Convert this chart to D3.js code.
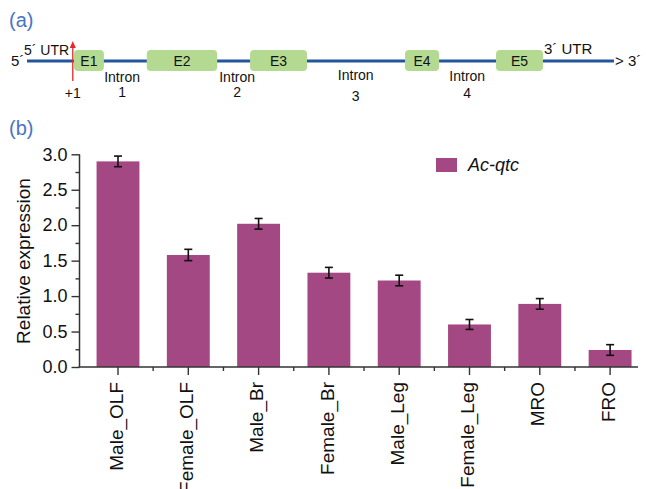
<!DOCTYPE html>
<html>
<head>
<meta charset="utf-8">
<script src="https://cdn.jsdelivr.net/npm/d3@7"></script>
<style>
  html, body { margin: 0; padding: 0; background: #fff; }
  svg { display: block; font-family: Arial, "Liberation Sans", Helvetica, sans-serif; }
</style>
</head>
<body>
<svg id="fig" width="646" height="489"></svg>
<script>
// ---- Gene structure (panel a), positions along the transcript in arbitrary units (0–1000) ----
const exonNames  = ["E1", "E2", "E3", "E4", "E5"];
const exonStarts = [80, 204, 380, 644, 799];
const exonEnds   = [131, 324, 477, 702, 879];
const intronNames = ["1", "2", "3", "4"];
const intronLabelPos = [162, 358, 560, 750];
const tssPos = 78;

// ---- Relative expression (panel b) ----
const tissues = ["Male_OLF", "Female_OLF", "Male_Br", "Female_Br", "Male_Leg", "Female_Leg", "MRO", "FRO"];
const expression = [2.90, 1.58, 2.02, 1.33, 1.22, 0.60, 0.89, 0.24];
const expressionErr = [0.075, 0.08, 0.075, 0.075, 0.075, 0.07, 0.075, 0.075];
const yMajorTicks = [0, 0.5, 1.0, 1.5, 2.0, 2.5, 3.0];
const yMinorTicks = [0.25, 0.75, 1.25, 1.75, 2.25, 2.75];
const seriesName = "Ac-qtc";

const svg = d3.select("#fig");
const barColor = "#a44884";
const axisColor = "#333";
const panelColor = "#4a74c4";

// ================= Panel (a) =================
svg.append("text").attr("x", 9).attr("y", 27)
  .attr("font-size", 20).attr("fill", panelColor).text("(a)");

const gx = d3.scaleLinear().domain([0, 1000]).range([27, 614]);
const geneY = 61;
const gA = svg.append("g");

gA.append("line")
  .attr("x1", gx(0)).attr("x2", gx(1000))
  .attr("y1", geneY).attr("y2", geneY)
  .attr("stroke", "#22559b").attr("stroke-width", 3);

// transcription start site arrow
gA.append("line")
  .attr("x1", gx(tssPos)).attr("x2", gx(tssPos))
  .attr("y1", 81).attr("y2", 46)
  .attr("stroke", "#e8262b").attr("stroke-width", 1.3);
gA.append("path")
  .attr("d", d3.line()([[gx(tssPos) - 3, 48], [gx(tssPos), 41], [gx(tssPos) + 3, 48]]) + "Z")
  .attr("fill", "#e8262b");

const exons = exonNames.map((n, i) => ({ name: n, s: exonStarts[i], e: exonEnds[i] }));
gA.selectAll("rect.exon").data(exons).join("rect")
  .attr("class", "exon")
  .attr("x", d => gx(d.s)).attr("width", d => gx(d.e) - gx(d.s))
  .attr("y", geneY - 11).attr("height", 21)
  .attr("rx", 4).attr("fill", "#b4da92");
gA.selectAll("text.exon").data(exons).join("text")
  .attr("class", "exon")
  .attr("x", d => (gx(d.s) + gx(d.e)) / 2).attr("y", geneY + 5)
  .attr("text-anchor", "middle").attr("font-size", 14).attr("fill", "#111")
  .text(d => d.name);

const intronDy = [0, 0, -2, -1];
const intronNumDy = [0, 0, 4, 1];
intronNames.forEach((n, i) => {
  const cx = gx(intronLabelPos[i]);
  gA.append("text").attr("x", cx).attr("y", 82 + intronDy[i])
    .attr("text-anchor", "middle").attr("font-size", 14).attr("fill", "#111").text("Intron");
  gA.append("text").attr("x", cx).attr("y", 97 + intronNumDy[i])
    .attr("text-anchor", "middle").attr("font-size", 14).attr("fill", "#111").text(n);
});

gA.append("text").attr("x", gx(tssPos)).attr("y", 98).attr("text-anchor", "middle")
  .attr("font-size", 14).attr("fill", "#111").text("+1");
gA.append("text").attr("x", 11).attr("y", 66).attr("font-size", 15).attr("fill", "#111").text("5´");
gA.append("text").attr("x", 24).attr("y", 55).attr("font-size", 14).attr("fill", "#111").text("5´ UTR");
gA.append("text").attr("x", 544).attr("y", 54).attr("font-size", 15).attr("fill", "#111").text("3´ UTR");
gA.append("text").attr("x", 615).attr("y", 66).attr("font-size", 15).attr("fill", "#111").text("> 3´");

// ================= Panel (b) =================
svg.append("text").attr("x", 9).attr("y", 135)
  .attr("font-size", 20).attr("fill", panelColor).text("(b)");

const axisX = 79.5, baseY = 367;
const y = d3.scaleLinear().domain([0, 3]).range([baseY, 154.3]);
const x = d3.scaleBand().domain(tissues).range([82.85, 645.25])
  .paddingInner(0.39).paddingOuter(0.195);

// bars
svg.append("g").selectAll("rect").data(tissues).join("rect")
  .attr("x", d => x(d)).attr("width", x.bandwidth())
  .attr("y", (d, i) => y(expression[i]))
  .attr("height", (d, i) => y(0) - y(expression[i]))
  .attr("fill", barColor);

// error bars
const gE = svg.append("g").attr("stroke", "#111").attr("stroke-width", 1.6);
tissues.forEach((t, i) => {
  const cx = x(t) + x.bandwidth() / 2;
  const hi = y(expression[i] + expressionErr[i]);
  const lo = y(expression[i] - expressionErr[i]);
  gE.append("line").attr("x1", cx).attr("x2", cx).attr("y1", hi).attr("y2", lo);
  gE.append("line").attr("x1", cx - 4).attr("x2", cx + 4).attr("y1", hi).attr("y2", hi);
  gE.append("line").attr("x1", cx - 4).attr("x2", cx + 4).attr("y1", lo).attr("y2", lo);
});

// y axis
const yAxisG = svg.append("g").attr("transform", `translate(${axisX},0)`)
  .call(d3.axisLeft(y).tickValues(yMajorTicks).tickFormat(d3.format(".1f"))
    .tickSize(8).tickPadding(4));
yAxisG.select(".domain").attr("stroke", axisColor).attr("stroke-width", 1.5)
  .attr("d", `M0,${y(3)}V${baseY}`);
yAxisG.selectAll(".tick line").attr("stroke", axisColor).attr("stroke-width", 1.4);
yAxisG.selectAll(".tick text").attr("font-size", 18).attr("fill", "#111")
  .attr("font-family", "Arial, 'Liberation Sans', sans-serif");

const yMinorG = svg.append("g").attr("transform", `translate(${axisX},0)`)
  .call(d3.axisLeft(y).tickValues(yMinorTicks).tickFormat("").tickSize(4));
yMinorG.select(".domain").remove();
yMinorG.selectAll(".tick line").attr("stroke", axisColor).attr("stroke-width", 1.4);

// x axis
const xAxisG = svg.append("g").attr("transform", `translate(0,${baseY})`)
  .call(d3.axisBottom(x).tickSize(8).tickPadding(4));
xAxisG.select(".domain").attr("stroke", axisColor).attr("stroke-width", 1.5)
  .attr("d", `M${axisX - 1},0H638`);
xAxisG.selectAll(".tick line").attr("stroke", axisColor).attr("stroke-width", 1.4);
xAxisG.selectAll(".tick text")
  .attr("font-size", 19).attr("fill", "#111")
  .attr("font-family", "Arial, 'Liberation Sans', sans-serif")
  .attr("text-anchor", "end")
  .attr("transform", "translate(-2,15) rotate(-90)")
  .attr("x", 0).attr("y", 0).attr("dx", 0).attr("dy", "0.35em");

// minor x ticks halfway between categories
const midpoints = tissues.slice(1).map((t, i) =>
  (x(tissues[i]) + x(t)) / 2 + x.bandwidth() / 2);
svg.append("g").selectAll("line").data(midpoints).join("line")
  .attr("x1", d => d).attr("x2", d => d)
  .attr("y1", baseY).attr("y2", baseY + 4)
  .attr("stroke", axisColor).attr("stroke-width", 1.4);

// y axis title
svg.append("text")
  .attr("transform", `translate(30,261) rotate(-90)`)
  .attr("text-anchor", "middle").attr("font-size", 19).attr("fill", "#111")
  .text("Relative expression");

// legend
svg.append("rect").attr("x", 436).attr("y", 158).attr("width", 21).attr("height", 14)
  .attr("fill", barColor);
svg.append("text").attr("x", 468).attr("y", 171).attr("font-size", 18)
  .attr("font-style", "italic").attr("fill", "#111").text(seriesName);
</script>
</body>
</html>
